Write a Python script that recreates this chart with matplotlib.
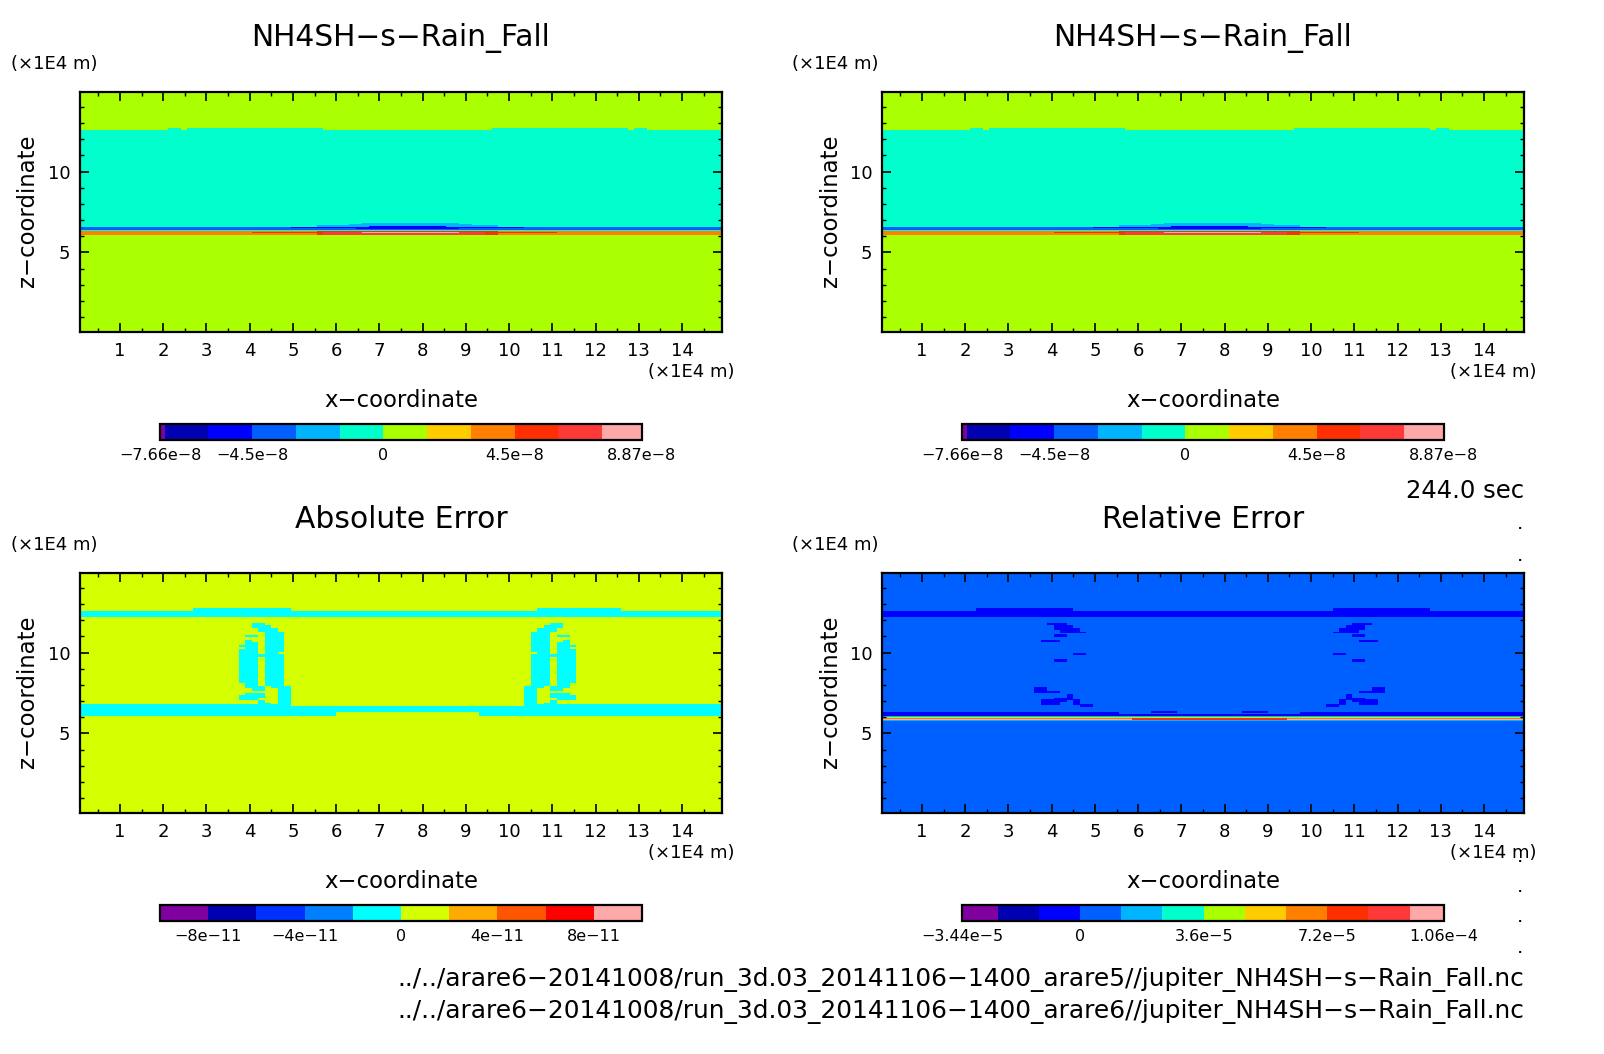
import numpy as np
from matplotlib import pyplot as plt
from matplotlib.colors import ListedColormap, BoundaryNorm

W, H = 1604, 1054

# grid of the model output, in units of 1E4 m
x = 0.075 + 0.15 * np.arange(100)
z = 0.025 + 0.05 * np.arange(300)

colors12 = ['#8000a0', '#0000b0', '#0000ff', '#0060ff', '#00b4ff', '#00ffcc',
            '#aaff00', '#ffcc00', '#ff8000', '#ff3000', '#ff3838', '#ffa8a8']
colors10 = ['#8000a0', '#0000b0', '#0030ff', '#0080ff', '#00ffff',
            '#d4ff00', '#ffaa00', '#ff5500', '#ff0000', '#ffaaaa']

levels_fall = [-7.66e-8, -7.5e-8, -6e-8, -4.5e-8, -3e-8, -1.5e-8, 0, 1.5e-8, 3e-8, 4.5e-8, 6e-8, 7.5e-8, 8.87e-8]
levels_abs = [-1e-10, -8e-11, -6e-11, -4e-11, -2e-11, 0, 2e-11, 4e-11, 6e-11, 8e-11, 1e-10]
levels_rel = [-3.44e-5, -2.4e-5, -1.2e-5, 0, 1.2e-5, 2.4e-5, 3.6e-5, 4.8e-5, 6e-5, 7.2e-5, 8.4e-5, 9.6e-5, 1.06e-4]

ticks_fall = [-7.66e-8, -4.5e-8, 0, 4.5e-8, 8.87e-8]
labels_fall = ['−7.66e−8', '−4.5e−8', '0', '4.5e−8', '8.87e−8']
ticks_abs = [-8e-11, -4e-11, 0, 4e-11, 8e-11]
labels_abs = ['−8e−11', '−4e−11', '0', '4e−11', '8e−11']
ticks_rel = [-3.44e-5, 0, 3.6e-5, 7.2e-5, 1.06e-4]
labels_rel = ['−3.44e−5', '0', '3.6e−5', '7.2e−5', '1.06e−4']

# horizontal layers: z bottom, z top, value
fall_bands = [
    (0.0, 6.04, 0.4e-8), (6.04, 6.125, 2.2e-8), (6.125, 6.29, 3.7e-8),
    (6.29, 6.37, 2.2e-8), (6.37, 6.415, -1e-8), (6.415, 6.56, -3.7e-8),
    (6.56, 6.625, -2.2e-8), (6.625, 12.6, -0.7e-8), (12.6, 15.0, 0.4e-8),
]
# local departures: x left, x right, z bottom, z top, value
fall_patches = [
    (2.63, 5.6, 12.6, 12.72, -0.7e-8), (9.67, 12.65, 12.6, 12.72, -0.7e-8),
    (2.2, 2.35, 12.6, 12.68, -0.7e-8), (12.9, 13.1, 12.6, 12.68, -0.7e-8),
    (5.65, 9.64, 6.625, 6.69, -2.2e-8), (6.29, 9.05, 6.69, 6.77, -2.2e-8),
    (6.59, 8.75, 6.77, 6.81, -2.2e-8), (7.475, 7.82, 6.81, 6.875, -2.2e-8),
    (5.36, 9.93, 6.56, 6.625, -3.7e-8), (5.07, 10.23, 6.5, 6.56, -5.2e-8),
    (6.44, 8.85, 6.44, 6.58, -5.2e-8), (6.74, 8.56, 6.48, 6.65, -5.2e-8),
    (5.38, 9.91, 6.29, 6.375, 2.2e-8), (6.74, 8.56, 6.29, 6.33, 3.7e-8),
    (4.15, 11.11, 6.19, 6.25, 5.2e-8), (5.54, 9.755, 6.06, 6.29, 5.2e-8),
    (5.8, 9.47, 6.125, 6.25, 6.7e-8), (6.59, 8.73, 6.19, 6.25, 8.2e-8),
]

abs_bands = [
    (0.0, 6.05, 5e-12), (6.05, 6.85, -5e-12), (6.85, 12.2, 5e-12),
    (12.2, 12.6, -5e-12), (12.6, 15.0, 5e-12),
]
abs_patches = [
    (2.75, 4.9, 12.6, 12.75, -5e-12), (10.75, 12.55, 12.6, 12.75, -5e-12),
    (5.0, 10.3, 6.7, 6.85, 5e-12), (6.1, 9.2, 6.05, 6.37, 5e-12),
]
# cells of the left error column, from z=11.85 down, x starts at 3.75
abs_mask = [
    '..##.....', '..###....', '...###...', '...###...', '....###..', '.##.###..',
    '....###..', '.#..###..', '.##.###..', '###.###..', '.##.###..', '###.###..',
    '###.##...', '#######..', '###.###..', '###.###..', '###.###..', '###.###..',
    '###.###..', '###.###..', '###.###..', '###.###..', '###.###..', '###.###..',
    '###.###..', '.##.###..', '.###.###.', '..##..##.', '......##.', '.###..##.',
    '####..##.', '###...##.', '...#..##.', '...##.##.',
]

rel_bands = [
    (0.0, 5.75, 0.5e-5), (5.75, 5.81, 1.8e-5), (5.81, 5.85, 4.2e-5),
    (5.85, 5.91, 1e-4), (5.91, 5.96, 6.6e-5), (5.96, 6.02, 4.2e-5),
    (6.02, 6.06, 1.8e-5), (6.06, 6.375, -0.6e-5), (6.375, 12.2, 0.5e-5),
    (12.2, 12.58, -0.6e-5), (12.58, 15.0, 0.5e-5),
]
rel_patches = [
    (2.3, 4.47, 12.58, 12.75, -0.6e-5), (10.5, 12.65, 12.58, 12.75, -0.6e-5),
    (5.6, 9.7, 6.2, 6.375, 0.5e-5), (5.6, 9.7, 6.06, 6.12, 1.8e-5),
    (5.83, 9.47, 5.85, 5.96, 7.8e-5), (7.2, 8.1, 5.81, 5.85, 4.2e-5),
    (6.2, 9.1, 6.3, 6.35, -0.6e-5),
    (6.35, 6.85, 6.25, 6.42, -0.6e-5), (8.45, 8.95, 6.25, 6.42, -0.6e-5),
    (6.5, 6.7, 6.3, 6.35, -1.8e-5), (8.6, 8.8, 6.3, 6.35, -1.8e-5),
]
# blobs on the left side, the right side is mirrored
rel_blobs = [
    (4.02, 4.35, 11.71, 11.85), (4.12, 4.47, 11.54, 11.71), (4.17, 4.56, 11.39, 11.54),
    (4.23, 4.62, 11.27, 11.39), (4.31, 4.72, 11.19, 11.27), (4.16, 4.35, 10.96, 11.13),
    (3.86, 4.16, 10.65, 10.77), (4.59, 4.76, 9.83, 9.94), (4.16, 4.31, 9.4, 9.6),
    (3.72, 3.88, 7.48, 7.85), (3.88, 4.16, 7.48, 7.58), (3.84, 4.16, 6.75, 7.1),
    (4.04, 4.27, 6.96, 7.21), (4.33, 4.48, 7.06, 7.44), (4.48, 4.64, 6.75, 7.17),
    (4.64, 4.93, 6.65, 6.85),
]

dots_y = [529, 561, 862, 892, 922, 953]


def make_field(bands, patches, background=0.0):
    field = np.full((len(z), len(x)), background)
    for z0, z1, val in bands:
        field[(z >= z0) & (z < z1), :] = val
    for x0, x1, z0, z1, val in patches:
        field[np.ix_((z >= z0) & (z < z1), (x >= x0 - 0.05) & (x <= x1 + 0.05))] = val
    return field


def mirror_set(field, rows, cols, val):
    # the picture is symmetric about column 50.5
    field[np.ix_(rows, cols)] = val
    field[np.ix_(rows, [101 - c for c in cols if 101 - c < 100])] = val


def box(left, top, width, height):
    return [left / W, 1 - (top + height) / H, width / W, height / H]


def drawPanel(fig, left, top, field, levels, colors, title, cticks, clabels, unitX):
    cmap = ListedColormap(colors)
    norm = BoundaryNorm(levels, cmap.N)
    ax = fig.add_axes(box(left, top, 642, 240))
    mesh = ax.pcolormesh(x, z, field, cmap=cmap, norm=norm, shading='nearest', antialiased=False, rasterized=True)
    ax.set_xlim(0.075, 14.925)
    ax.set_ylim(0.075, 14.925)
    ax.set_xticks(np.arange(1, 15))
    ax.set_xticks(np.arange(0.5, 15, 1), minor=True)
    ax.set_yticks([5, 10])
    ax.set_yticks(np.arange(1, 15), minor=True)
    ax.tick_params(which='major', direction='in', top=True, right=True, length=6.5, width=1.2, labelsize=13, pad=7)
    ax.tick_params(which='minor', direction='in', top=True, right=True, length=3, width=1)
    for s in ax.spines.values():
        s.set_linewidth(1.6)

    fig.text((left + 321) / W, 1 - (top - 54) / H, title, ha='center', va='center', fontsize=21.4)
    fig.text((left - 52) / W, 1 - (top + 119) / H, 'z−coordinate', rotation=90, ha='center', va='center', fontsize=16.4)
    fig.text((left + 321) / W, 1 - (top + 309) / H, 'x−coordinate', ha='center', va='center', fontsize=16.4)
    fig.text(unitX / W, 1 - (top - 28) / H, '(×1E4 m)', ha='center', va='center', fontsize=13)
    fig.text((left + 655) / W, 1 - (top + 280) / H, '(×1E4 m)', ha='right', va='center', fontsize=13)

    cax = fig.add_axes(box(left + 80, top + 332, 482, 16))
    cb = fig.colorbar(mesh, cax=cax, orientation='horizontal', spacing='proportional', ticks=cticks)
    cb.ax.set_xticklabels(clabels, fontsize=11.5)
    cb.ax.tick_params(length=0, pad=6)
    cb.ax.minorticks_off()
    cb.outline.set_linewidth(1.6)
    return ax


if __name__ == "__main__":
    fall = make_field(fall_bands, fall_patches)

    abserr = make_field(abs_bands, abs_patches)
    for r, row in enumerate(abs_mask):
        rows = np.where((z < 11.85 - 0.15 * r) & (z >= 11.85 - 0.15 * (r + 1)))[0]
        cols = [25 + c for c, ch in enumerate(row) if ch == '#']
        mirror_set(abserr, rows, cols, -5e-12)

    relerr = make_field(rel_bands, rel_patches)
    for x0, x1, z0, z1 in rel_blobs:
        rows = np.where((z >= z0) & (z < z1))[0]
        cols = list(np.where((x >= x0 - 0.05) & (x <= x1 + 0.05))[0])
        mirror_set(relerr, rows, cols, -0.6e-5)

    fig = plt.figure(figsize=(W / 100, H / 100), dpi=100)
    drawPanel(fig, 80, 92, fall, levels_fall, colors12, 'NH4SH−s−Rain_Fall', ticks_fall, labels_fall, 54)
    drawPanel(fig, 882, 92, fall, levels_fall, colors12, 'NH4SH−s−Rain_Fall', ticks_fall, labels_fall, 835.5)
    drawPanel(fig, 80, 573, abserr, levels_abs, colors10, 'Absolute Error', ticks_abs, labels_abs, 54)
    drawPanel(fig, 882, 573, relerr, levels_rel, colors12, 'Relative Error', ticks_rel, labels_rel, 835.5)

    fig.text(1524 / W, 1 - 491 / H, '244.0 sec', ha='right', va='center', fontsize=17.5)
    fig.text(1524 / W, 1 - 980 / H, '../../arare6−20141008/run_3d.03_20141106−1400_arare5//jupiter_NH4SH−s−Rain_Fall.nc',
             ha='right', va='center', fontsize=17.9)
    fig.text(1524 / W, 1 - 1011 / H, '../../arare6−20141008/run_3d.03_20141106−1400_arare6//jupiter_NH4SH−s−Rain_Fall.nc',
             ha='right', va='center', fontsize=17.9)
    for y in dots_y:
        fig.text(1520 / W, 1 - y / H, '.', ha='center', va='baseline', fontsize=8, fontweight='bold')

    fig.savefig('out.png', dpi=100)
    plt.close('all')
